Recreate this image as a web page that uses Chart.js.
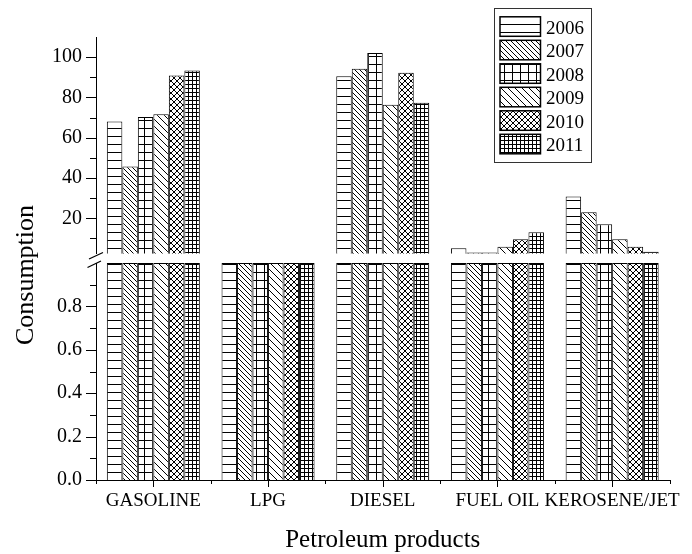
<!DOCTYPE html>
<html>
<head>
<meta charset="utf-8">
<script src="https://cdn.jsdelivr.net/npm/chart.js@4/dist/chart.umd.min.js"></script>
<style>
  body { margin: 0; background: #fff; }
  canvas { display: block; }
</style>
</head>
<body>
<canvas id="chart" width="692" height="554"></canvas>
<script>
const categories = ['GASOLINE', 'LPG', 'DIESEL', 'FUEL OIL', 'KEROSENE/JET'];
const years = ['2006', '2007', '2008', '2009', '2010', '2011'];

// consumption per year, in category order
const v2006 = [68.1, 1.5, 90.5, 5.1, 30.8];
const v2007 = [45.7, 1.5, 94.2, 3.0, 23.0];
const v2008 = [70.3, 1.5, 102.0, 3.0, 17.0];
const v2009 = [71.6, 1.5, 76.3, 5.9, 9.6];
const v2010 = [90.9, 1.5, 92.2, 9.6, 5.9];
const v2011 = [93.4, 1.5, 77.3, 13.1, 3.4];
const series = [v2006, v2007, v2008, v2009, v2010, v2011];

// broken y axis: lower part 0..1, upper part 2.5..110
const upMin = 2.5, upMax = 110;
const lowMin = 0, lowMax = 1;
const upTicks = [20, 40, 60, 80, 100];
const upMinor = [10, 30, 50, 70, 90];
const lowTicks = [0, 0.2, 0.4, 0.6, 0.8];
const lowMinor = [0.1, 0.3, 0.5, 0.7, 0.9];

const FONT = '"Liberation Serif", "Times New Roman", serif';

function makePattern(kind) {
    const sizes = { hline: 8, dense: 5, grid: 8, diag: 7, cross: 6, fine: 4 };
    const s = sizes[kind];
    const c = document.createElement('canvas');
    c.width = s; c.height = s;
    const g = c.getContext('2d');
    g.fillStyle = '#fff';
    g.fillRect(0, 0, s, s);
    g.strokeStyle = '#000';
    g.lineWidth = 1;
    g.beginPath();
    if (kind === 'hline' || kind === 'grid' || kind === 'fine') {
        g.moveTo(0, 0.5); g.lineTo(s, 0.5);
    }
    if (kind === 'grid' || kind === 'fine') {
        g.moveTo(0.5, 0); g.lineTo(0.5, s);
    }
    if (kind === 'dense' || kind === 'diag' || kind === 'cross') {
        for (const k of [-s, 0, s]) { g.moveTo(k, 0); g.lineTo(k + s, s); }
    }
    if (kind === 'cross') {
        for (const k of [-s, 0, s]) { g.moveTo(k, s); g.lineTo(k + s, 0); }
    }
    g.stroke();
    return g.createPattern(c, 'repeat');
}

const patterns = ['hline', 'dense', 'grid', 'diag', 'cross', 'fine'].map(makePattern);

const datasets = [];
years.forEach((yr, i) => {
    const common = {
        label: yr,
        stack: yr,
        backgroundColor: patterns[i],
        borderColor: '#000',
        borderWidth: 1,
        barPercentage: 1,
        categoryPercentage: 0.811
    };
    datasets.push(Object.assign({}, common, {
        yAxisID: 'yUp',
        data: series[i].map(v => (v > upMin ? v : null))
    }));
    datasets.push(Object.assign({}, common, {
        yAxisID: 'yLow',
        data: series[i].map(v => Math.min(v, lowMax))
    }));
});

function fixedWidth(scale) { scale.width = 96; }

const yCommon = {
    type: 'linear',
    position: 'left',
    stack: 'y',
    stacked: false,
    grid: { display: false, drawTicks: false },
    border: { display: true, color: '#000', width: 1 },
    afterFit: fixedWidth
};

const extras = {
    id: 'extras',
    afterDraw(chart) {
        const { ctx, chartArea, scales } = chart;
        const { x, yUp, yLow } = scales;
        const x0 = chartArea.left;
        ctx.save();
        ctx.strokeStyle = '#000';
        ctx.lineWidth = 1;
        ctx.beginPath();
        // y tick marks
        const yMark = (scale, v, len) => {
            const p = Math.round(scale.getPixelForValue(v)) + 0.5;
            ctx.moveTo(x0 - len, p); ctx.lineTo(x0, p);
        };
        upTicks.forEach(v => yMark(yUp, v, 10));
        upMinor.forEach(v => yMark(yUp, v, 6));
        lowTicks.forEach(v => yMark(yLow, v, 10));
        lowMinor.forEach(v => yMark(yLow, v, 6));
        // x tick marks
        const xb = x.top;
        categories.forEach((c, i) => {
            const p = Math.round(x.getPixelForValue(i)) + 0.5;
            ctx.moveTo(p, xb); ctx.lineTo(p, xb + 7);
        });
        for (let i = 0; i <= categories.length; i++) {
            const p = Math.round(x.getPixelForValue(i - 0.5)) + 0.5;
            ctx.moveTo(p, xb); ctx.lineTo(p, xb + 4);
        }
        ctx.stroke();

        // break marks
        const b1 = yUp.bottom, t2 = yLow.top;
        ctx.lineWidth = 1.3;
        ctx.beginPath();
        ctx.moveTo(x0 - 7, b1 + 5.5); ctx.lineTo(x0 + 7, b1 - 1);
        ctx.moveTo(x0 - 8.5, t2 + 4.5); ctx.lineTo(x0 + 5, t2 - 2);
        ctx.stroke();

        // axis titles
        ctx.fillStyle = '#000';
        ctx.textAlign = 'center';
        ctx.textBaseline = 'alphabetic';
        ctx.font = '25px ' + FONT;
        ctx.fillText('Petroleum products', (x.left + x.right) / 2, 547);
        ctx.save();
        ctx.translate(33, 275);
        ctx.rotate(-Math.PI / 2);
        ctx.font = '26px ' + FONT;
        ctx.fillText('Consumption', 0, 0);
        ctx.restore();

        // legend
        const lx = 494.5, ly = 8.5, lw = 97, lh = 154;
        ctx.fillStyle = '#fff';
        ctx.fillRect(lx, ly, lw, lh);
        ctx.lineWidth = 1;
        ctx.strokeStyle = '#333';
        ctx.strokeRect(lx, ly, lw, lh);
        ctx.font = '19px ' + FONT;
        ctx.textAlign = 'left';
        years.forEach((yr, i) => {
            const sy = 16.8 + i * 23.5;
            ctx.fillStyle = patterns[i];
            ctx.fillRect(500, sy, 40.5, 19.5);
            ctx.strokeStyle = '#000';
            ctx.lineWidth = 1.5;
            ctx.strokeRect(500, sy, 40.5, 19.5);
            ctx.fillStyle = '#000';
            ctx.fillText(yr, 546, sy + 9.75 + 7);
        });
        ctx.restore();
    }
};

new Chart(document.getElementById('chart'), {
    type: 'bar',
    data: { labels: categories, datasets: datasets },
    options: {
        responsive: false,
        animation: false,
        devicePixelRatio: 1,
        layout: { padding: { left: 0, right: 22.5, top: 37, bottom: 0 } },
        plugins: {
            legend: { display: false },
            tooltip: { enabled: false }
        },
        scales: {
            x: {
                type: 'category',
                offset: true,
                grid: { display: false, drawTicks: false },
                border: { display: true, color: '#000', width: 1 },
                ticks: {
                    color: '#000',
                    font: { family: FONT, size: 19 },
                    padding: 10,
                    maxRotation: 0,
                    autoSkip: false
                },
                afterFit(scale) { scale.height = 74; }
            },
            // stacked left axes are placed bottom-up in definition order
            yLow: Object.assign({}, yCommon, {
                min: lowMin,
                max: lowMax,
                stackWeight: 217,
                ticks: {
                    color: '#000',
                    font: { family: FONT, size: 20 },
                    padding: 14,
                    callback: v => Number(v).toFixed(1)
                },
                afterBuildTicks(scale) { scale.ticks = lowTicks.map(v => ({ value: v })); }
            }),
            yGap: Object.assign({}, yCommon, {
                min: 0,
                max: 1,
                stackWeight: 9.5,
                border: { display: false },
                ticks: { display: false }
            }),
            yUp: Object.assign({}, yCommon, {
                min: upMin,
                max: upMax,
                stackWeight: 216.5,
                ticks: {
                    color: '#000',
                    font: { family: FONT, size: 20 },
                    padding: 14,
                    callback: v => String(v)
                },
                afterBuildTicks(scale) { scale.ticks = upTicks.map(v => ({ value: v })); }
            })
        }
    },
    plugins: [extras]
});
</script>
</body>
</html>
